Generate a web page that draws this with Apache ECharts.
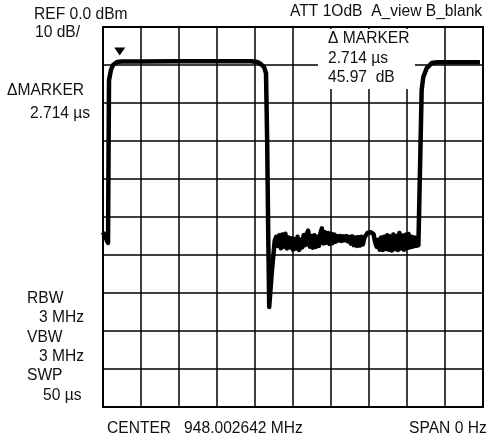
<!DOCTYPE html>
<html>
<head>
<meta charset="utf-8">
<title>Spectrum analyzer trace</title>
<script src="https://cdn.jsdelivr.net/npm/echarts@6/dist/echarts.min.js"></script>
<style>
    html,body{margin:0;padding:0;background:#fff;}
    #chart{width:489px;height:440px;}
</style>
</head>
<body>
<div id="chart"></div>
<script>
// sweep time in microseconds (SWP 50 us, 5 us/div)
var time = [
    0, 0.66, 0.79, 1.05, 1.32, 1.84, 2.5, 5, 10, 15, 19.5,
    20.3, 20.8, 21.2, 21.45, 21.6, 21.75, 21.87, 22.2, 22.6,
    22.8, 23.0, 23.2, 23.4, 23.6, 23.8, 24.0, 24.2, 24.4, 24.6,
    24.8, 25.0, 25.2, 25.4, 25.6, 25.8, 26.0, 26.2, 26.4, 26.6,
    26.8, 27.0, 27.2, 27.4, 27.6, 27.8, 28.0, 28.2, 28.4, 28.6,
    28.8, 29.0, 29.2, 29.4, 29.6, 29.8, 30.0, 30.2, 30.4, 30.6,
    30.8, 31.0, 31.2, 31.4, 31.6, 31.8, 32.0, 32.2, 32.4, 32.6,
    32.8, 33.0, 33.2, 33.4, 33.6, 33.8, 34.0, 34.2, 34.4, 34.6,
    34.8, 35.0, 35.2, 35.4, 35.6, 35.8, 36.0, 36.2, 36.4, 36.6,
    36.8, 37.0, 37.2, 37.4, 37.6, 37.8, 38.0, 38.2, 38.4, 38.6,
    38.8, 39.0, 39.2, 39.4, 39.6, 39.8, 40.0, 40.2, 40.4, 40.6,
    40.8, 41.0, 41.2, 41.4,
    41.5, 41.93, 42.14, 42.6, 43.25, 44, 49.6
];
// level in dBm (REF 0.0 dBm, 10 dB/div)
var level = [
    -54, -56.8, -14, -11.3, -10, -9.2, -9.1, -9.1, -9.0, -9.0, -9.0,
    -9.2, -9.8, -10.6, -12.2, -30, -56, -73.7, -64.7, -56.2,
    -55.2, -57.6, -54.8, -58.2, -54.6, -57.8, -54.4, -58.3, -55.4, -58.0,
    -55.6, -58.6, -55.8, -58.3, -55.2, -58.7, -56.0, -58.0, -54.8, -57.4,
    -54.4, -53.6, -57.8, -55.0, -58.1, -54.8, -57.9, -55.2, -57.6, -54.4,
    -53.0, -57.0, -54.0, -56.8, -54.2, -57.1, -54.4, -56.9, -54.6, -56.5,
    -55.0, -56.2, -55.0, -56.3, -55.1, -56.1, -55.0, -56.4, -55.2, -57.0,
    -55.1, -57.4, -55.4, -57.6, -55.3, -57.5, -55.2, -57.2, -55.4, -55.0,
    -54.2, -53.9, -54.0, -53.9, -54.5, -56.6, -57.8, -56.0, -58.6, -55.4,
    -58.7, -55.2, -58.4, -54.8, -58.6, -55.1, -58.8, -54.6, -58.4, -55.0,
    -58.7, -54.2, -58.3, -54.9, -58.6, -54.7, -58.2, -54.5, -58.0, -55.2,
    -57.8, -55.4, -57.6, -57.4,
    -57.4, -16.6, -13.2, -10.8, -9.5, -9.3, -9.3
];
var marker = [2.2, -9.1];

var font = '15.6px "Liberation Sans", Arial, sans-serif';

function label(text, x, y){
    return {
        type:'text',
        z:20,
        style:{text:text, x:x, y:y, font:font, fill:'#111', verticalAlign:'middle'}
    };
}

var chart = echarts.init(document.getElementById('chart'));
chart.setOption({
    animation:false,
    grid:{left:103, top:27, width:380, height:380, show:true, borderColor:'#000', borderWidth:2},
    xAxis:{
        type:'value', min:0, max:50, interval:5,
        axisLine:{show:false}, axisTick:{show:false}, axisLabel:{show:false},
        splitLine:{lineStyle:{color:'#000', width:1.5}}
    },
    yAxis:{
        type:'value', min:-100, max:0, interval:10,
        axisLine:{show:false}, axisTick:{show:false}, axisLabel:{show:false},
        splitLine:{lineStyle:{color:'#000', width:1.5}}
    },
    series:[{
        type:'line',
        data:time.map(function(t, i){ return [t, level[i]]; }),
        showSymbol:false,
        lineStyle:{color:'#000', width:4.5, join:'round'},
        markPoint:{
            symbol:'triangle', symbolRotate:180, symbolSize:[11, 8], symbolOffset:[0, -10],
            itemStyle:{color:'#000'}, label:{show:false},
            data:[{coord:marker}]
        }
    }],
    graphic:[
        {type:'rect', z:10, shape:{x:318, y:29, width:97, height:60}, style:{fill:'#fff'}},
        label('REF 0.0 dBm', 34, 15),
        label('10 dB/', 35, 33),
        label('ATT 1OdB  A_view B_blank', 290, 12),
        label('\u0394MARKER', 7, 91),
        label('2.714 \u00b5s', 30, 114),
        label('\u0394 MARKER', 328, 39),
        label('2.714 \u00b5s', 328, 59),
        label('45.97  dB', 328, 78),
        label('RBW', 27, 299),
        label('3 MHz', 39, 318),
        label('VBW', 27, 338),
        label('3 MHz', 39, 357),
        label('SWP', 27, 376),
        label('50 \u00b5s', 43, 396),
        label('CENTER   948.002642 MHz', 107, 429),
        label('SPAN 0 Hz', 409, 429)
    ]
});
</script>
</body>
</html>
